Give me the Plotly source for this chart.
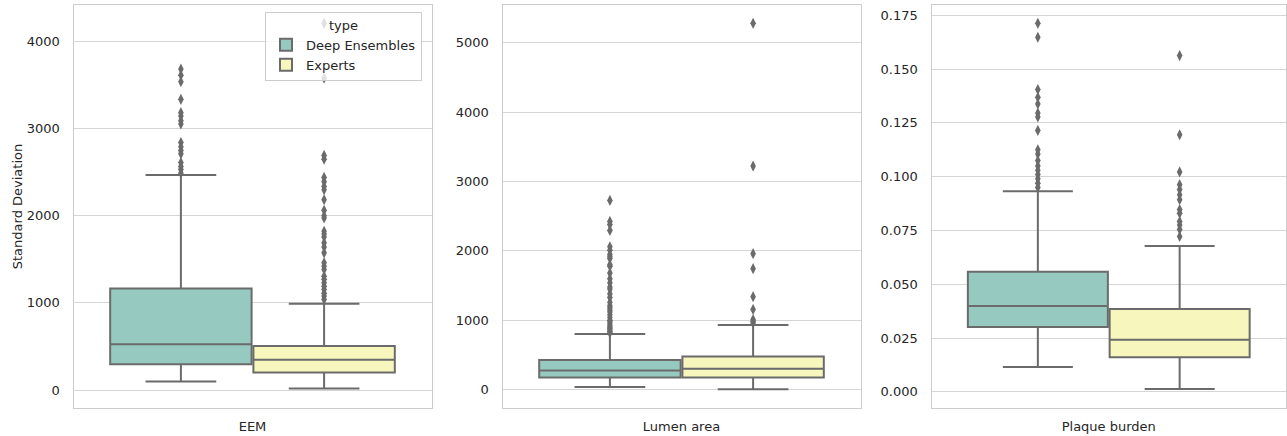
import plotly.graph_objects as go

categories = ["EEM", "Lumen area", "Plaque burden"]
types = ["Deep Ensembles", "Experts"]

# box statistics per category: [EEM, Lumen area, Plaque burden]
de_lower = [99, 39, 0.0115]
de_q1 = [297, 177, 0.0302]
de_median = [526, 278, 0.0399]
de_q3 = [1166, 428, 0.0558]
de_upper = [2465, 802, 0.0932]

ex_lower = [19, 5, 0.0013]
ex_q1 = [202, 177, 0.0161]
ex_median = [347, 303, 0.0242]
ex_q3 = [507, 480, 0.0385]
ex_upper = [990, 932, 0.0678]

# outliers
de_out_eem = [3680, 3611, 3535, 3334, 3181, 3142, 3089, 3051, 2838, 2790, 2746, 2709,
              2609, 2563, 2530, 2488]
ex_out_eem = [4205, 3577, 2690, 2648, 2438, 2390, 2335, 2297, 2183, 2061, 2000, 1973,
              1821, 1790, 1756, 1688, 1640, 1574, 1459, 1420, 1383, 1306, 1270, 1230,
              1190, 1154, 1110, 1078, 1040]
de_out_lumen = [2728, 2425, 2380, 2295, 2060, 2010, 1950, 1920, 1890, 1800, 1780, 1680,
                1600, 1540, 1480, 1450, 1380, 1330, 1260, 1210, 1180, 1150, 1120, 1080,
                1040, 1000, 980, 950, 920, 900, 880, 860, 840, 820]
ex_out_lumen = [5280, 3223, 1960, 1744, 1340, 1157, 1010, 985, 961]
de_out_plaque = [0.1713, 0.1648, 0.1405, 0.1369, 0.1338, 0.1296, 0.1278, 0.1215, 0.1125,
                 0.1105, 0.1075, 0.1050, 0.1030, 0.1010, 0.0990, 0.0970, 0.0950]
ex_out_plaque = [0.1563, 0.1195, 0.1022, 0.0963, 0.0940, 0.0916, 0.0893, 0.0847, 0.0830,
                 0.0792, 0.0775, 0.0755, 0.0722]

de_outliers = [de_out_eem, de_out_lumen, de_out_plaque]
ex_outliers = [ex_out_eem, ex_out_lumen, ex_out_plaque]

y_ranges = [[-205, 4415], [-264, 5544], [-0.0075, 0.1798]]
y_ticks = [[0, 1000, 2000, 3000, 4000],
           [0, 1000, 2000, 3000, 4000, 5000],
           [0, 0.025, 0.05, 0.075, 0.1, 0.125, 0.15, 0.175]]
y_tickfmt = ["d", "d", ".3f"]

colors = {"Deep Ensembles": "#96cac0", "Experts": "#f6f6bd"}
line_gray = "#6b6b6b"
grid = "#d5d5d5"

W, H = 1287, 436
domains_px = [(73.5, 431.5), (502.5, 860.5), (931.5, 1286.0)]

fig = go.Figure()

stats = {
    "Deep Ensembles": (de_lower, de_q1, de_median, de_q3, de_upper, de_outliers, -0.2),
    "Experts": (ex_lower, ex_q1, ex_median, ex_q3, ex_upper, ex_outliers, 0.2),
}

for i, cat in enumerate(categories):
    ax = "" if i == 0 else str(i + 1)
    for t in types:
        lo, q1, med, q3, up, outs, off = stats[t]
        fig.add_trace(go.Box(
            x=[off], q1=[q1[i]], median=[med[i]], q3=[q3[i]],
            lowerfence=[lo[i]], upperfence=[up[i]],
            width=0.395, whiskerwidth=0.5,
            fillcolor=colors[t], line=dict(color=line_gray, width=2),
            boxpoints=False, name=t, legendgroup=t, showlegend=(i == 0),
            xaxis="x" + ax, yaxis="y" + ax, hoverinfo="skip",
        ))
        fig.add_trace(go.Scatter(
            x=[off] * len(outs[i]), y=outs[i], mode="markers",
            marker=dict(symbol="diamond-tall", size=8, color=line_gray,
                        line=dict(width=0)),
            showlegend=False, xaxis="x" + ax, yaxis="y" + ax, hoverinfo="skip",
        ))

layout = dict(
    width=W, height=H,
    margin=dict(l=0, r=0, t=5, b=28),
    paper_bgcolor="white", plot_bgcolor="white",
    font=dict(family="DejaVu Sans", size=13, color="#262626"),
    showlegend=True,
    legend=dict(
        x=265 / W, y=(H - 28 - 12) / (H - 33), xanchor="left", yanchor="top",
        bgcolor="rgba(255,255,255,0.8)", bordercolor="#cccccc", borderwidth=1,
        title=dict(text="type", side="top center", font=dict(size=13)),
        font=dict(size=13), tracegroupgap=0, itemsizing="constant",
    ),
)

for i, cat in enumerate(categories):
    ax = "" if i == 0 else str(i + 1)
    d0, d1 = domains_px[i]
    layout["xaxis" + ax] = dict(
        domain=[d0 / W, d1 / W], range=[-0.5, 0.5],
        tickvals=[0], ticktext=[cat], showgrid=False, zeroline=False,
        showline=True, mirror=True, linecolor="#cccccc", linewidth=1.25,
        ticks="", ticklabelstandoff=6, anchor="y" + ax, fixedrange=True,
    )
    layout["yaxis" + ax] = dict(
        domain=[0, 1], range=y_ranges[i], tickvals=y_ticks[i],
        tickformat=y_tickfmt[i], showgrid=True, gridcolor=grid, gridwidth=1,
        zeroline=False, showline=True, mirror=True, linecolor="#cccccc",
        linewidth=1.25, ticks="", ticklabelstandoff=10, anchor="x" + ax,
        fixedrange=True,
    )

layout["yaxis"]["title"] = dict(text="Standard Deviation", standoff=1,
                                font=dict(size=13))

fig.update_layout(**layout)
fig.write_html(
    "out.html",
    config={"displayModeBar": False},
    post_script="document.body.style.margin='0';document.body.style.overflow='hidden';",
)
